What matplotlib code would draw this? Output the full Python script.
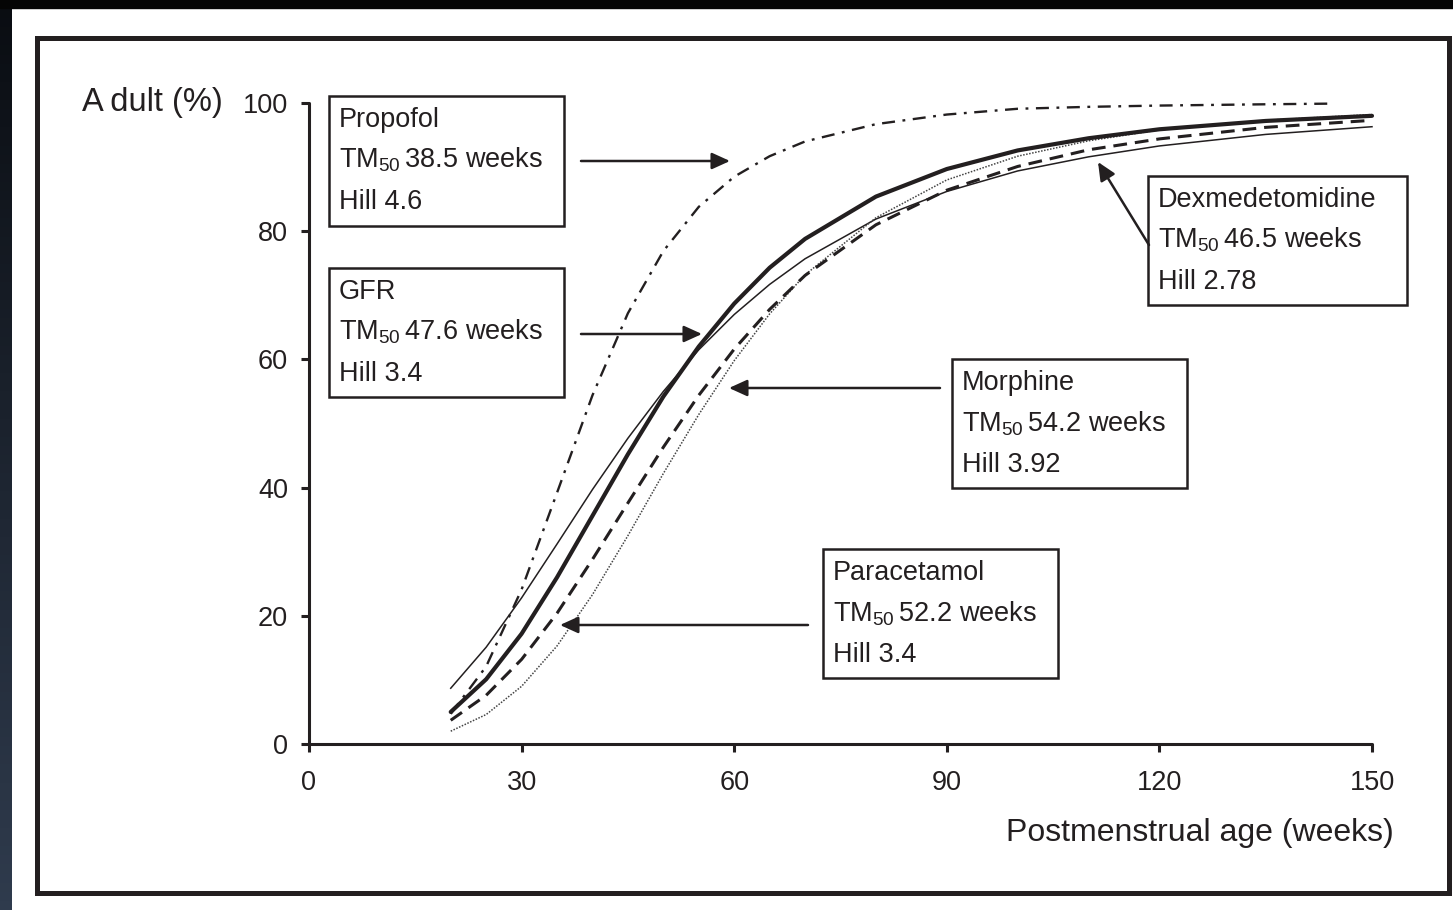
import matplotlib.pyplot as plt
import numpy as np
from matplotlib.patches import Rectangle, FancyArrowPatch

plt.rcParams["font.family"] = ["Liberation Sans", "DejaVu Sans"]
plt.rcParams["mathtext.fontset"] = "custom"
plt.rcParams["mathtext.rm"] = "Liberation Sans"

W, H = 1453, 910
INK = "#231f20"

# values (% of adult, by postmenstrual age in weeks)
pma = [20, 25, 30, 35, 40, 45, 50, 55, 60, 65, 70, 80, 90, 100, 110, 120, 135, 150]
propofol_pma = [20, 25, 30, 35, 40, 45, 50, 55, 60, 65, 70, 80, 90, 100, 110, 120, 135, 144]
propofol = [4.7, 12.1, 24.1, 39.2, 54.4, 67.2, 76.9, 83.8, 88.5, 91.7, 94.0, 96.7,
            98.2, 99.1, 99.4, 99.6, 99.8, 99.9]
gfr = [5.0, 10.1, 17.2, 26.0, 35.6, 45.2, 54.2, 62.0, 68.7, 74.3, 78.8, 85.4,
       89.7, 92.6, 94.5, 95.9, 97.2, 98.0]
dexmedetomidine = [8.7, 15.1, 22.8, 31.2, 39.7, 47.7, 55.0, 61.5, 67.0, 71.7, 75.7, 81.9,
                   86.2, 89.4, 91.6, 93.3, 95.1, 96.3]
paracetamol = [3.7, 7.6, 13.2, 20.4, 28.8, 37.6, 46.3, 54.4, 61.6, 67.8, 73.1, 81.0,
               86.4, 90.1, 92.7, 94.4, 96.2, 97.3]
morphine = [2.0, 4.6, 9.0, 15.3, 23.3, 32.5, 42.2, 51.4, 59.8, 67.1, 73.2, 82.1,
            88.0, 91.7, 94.1, 95.8, 97.3, 98.2]

x_ticks = [0, 30, 60, 90, 120, 150]
y_ticks = [0, 20, 40, 60, 80, 100]

boxes = [
    ("Propofol", "38.5", "4.6"),
    ("GFR", "47.6", "3.4"),
    ("Dexmedetomidine", "46.5", "2.78"),
    ("Morphine", "54.2", "3.92"),
    ("Paracetamol", "52.2", "3.4"),
]


def fx(x):
    return x / W


def fy(y):
    return 1 - y / H


fig = plt.figure(figsize=(W / 100, H / 100), dpi=100)
fig.patch.set_facecolor("white")

# screenshot edges: black strip on top, navy strip on the left
fig.patches.append(Rectangle((0, fy(8)), 1, 8 / H, transform=fig.transFigure,
                             color="#050505", zorder=0))
strip = fig.add_axes([0, 0, fx(12), 1])
strip.imshow(np.linspace(0, 1, 100)[:, None], aspect="auto",
             cmap=plt.matplotlib.colors.LinearSegmentedColormap.from_list(
                 "edge", ["#0a0d12", "#2f3b4d"]))
strip.axis("off")

# outer frame
fig.patches.append(Rectangle((fx(37), fy(893)), fx(1448.5) - fx(37), fy(37.5) - fy(893),
                             transform=fig.transFigure, fill=False, ec=INK, lw=3.6,
                             zorder=1))

ax = fig.add_axes([fx(309), fy(744), fx(1372) - fx(309), fy(103) - fy(744)])
ax.set_xlim(0, 150)
ax.set_ylim(0, 100)

ax.plot(propofol_pma, propofol, color=INK, lw=1.7, dashes=(5.5, 3.2, 1.2, 3.2),
        clip_on=False)
ax.plot(pma, dexmedetomidine, color=INK, lw=1.1, clip_on=False)
ax.plot(pma, morphine, color="#444444", lw=1.1, linestyle=(0, (1, 1)), clip_on=False)
ax.plot(pma, paracetamol, color=INK, lw=2.2, dashes=(4.5, 2.6), clip_on=False)
ax.plot(pma, gfr, color=INK, lw=3.0, solid_capstyle="round", clip_on=False)

for side in ["top", "right"]:
    ax.spines[side].set_visible(False)
for side in ["left", "bottom"]:
    ax.spines[side].set_linewidth(2.2)
    ax.spines[side].set_color(INK)
    ax.spines[side].set_capstyle("round")

ax.set_xticks(x_ticks)
ax.set_yticks(y_ticks)
ax.tick_params(axis="both", direction="out", length=6, width=2.2, color=INK,
               labelsize=19.5, labelcolor=INK)
ax.tick_params(axis="x", pad=13)
ax.tick_params(axis="y", pad=9)

fig.text(fx(82), fy(103), "A\u2009dult (%)", fontsize=23.5, color=INK, ha="left",
         va="center")
fig.text(fx(1394), fy(833), "Postmenstrual age (weeks)", fontsize=23, color=INK,
         ha="right", va="center")

# annotation boxes: (left, top, right, bottom) in pixels
box_pos = [
    (329, 96, 564, 226),
    (329, 268, 564, 397),
    (1148, 176, 1407, 305),
    (952, 359, 1187, 488),
    (823, 549, 1058, 678),
]
for (name, tm50, hill), (l, t, r, b) in zip(boxes, box_pos):
    fig.patches.append(Rectangle((fx(l), fy(b)), fx(r) - fx(l), fy(t) - fy(b),
                                 transform=fig.transFigure, fill=False, ec=INK,
                                 lw=1.8, zorder=3))
    lines = [name, "TM$_{\\mathrm{50}}\\,$" + tm50 + " weeks", "Hill " + hill]
    for i, s in enumerate(lines):
        fig.text(fx(l + 10), fy(t + 31 + 41 * i), s, fontsize=19.5, color=INK,
                 ha="left", va="baseline")

# arrows: (tail, tip) in pixels
arrows = [
    ((581, 161), (730, 161)),
    ((581, 334), (702, 334)),
    ((1149, 245), (1098, 162)),
    ((940, 388), (729, 388)),
    ((808, 625), (560, 625)),
]
for (x0, y0), (x1, y1) in arrows:
    fig.add_artist(FancyArrowPatch((fx(x0), fy(y0)), (fx(x1), fy(y1)),
                                   transform=fig.transFigure,
                                   arrowstyle="-|>,head_length=0.55,head_width=0.25",
                                   mutation_scale=20, lw=1.8, color=INK,
                                   shrinkA=0, shrinkB=0))

fig.savefig("out.png", dpi=100)
